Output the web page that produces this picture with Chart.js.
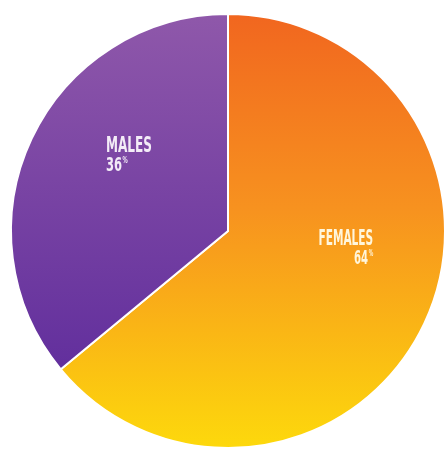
<!DOCTYPE html>
<html>
<head>
<meta charset="utf-8">
<style>
  html, body { margin: 0; padding: 0; background: #ffffff; }
  #wrap { width: 446px; height: 450px; position: relative; }
</style>
<script src="https://cdn.jsdelivr.net/npm/chart.js@4/dist/chart.umd.min.js"></script>
</head>
<body>
<div id="wrap"><canvas id="c" width="446" height="450"></canvas></div>
<script>
const categories = ["FEMALES", "MALES"];
const values = [64, 36];
const percentLabels = ["64", "36"];

const gradientStops = [
  [[0, "#f1661f"], [0.45, "#f7921f"], [1, "#fdd90c"]],
  [[0, "#8f58aa"], [1, "#58269a"]]
];

function makeGradient(ctx, area, stops) {
  const g = ctx.createLinearGradient(0, area.top, 0, area.bottom);
  stops.forEach(s => g.addColorStop(s[0], s[1]));
  return g;
}

const labelPlugin = {
  id: "sliceLabels",
  afterDatasetsDraw(chart) {
    const ctx = chart.ctx;
    const a = chart.chartArea;
    const w = a.right - a.left, h = a.bottom - a.top;
    const spec = [
      { fx: 0.833, fy: 0.532, align: "right", color: "#fff6dc", sx: 0.56 },
      { fx: 0.22, fy: 0.319, align: "left", color: "#f3ecf7", sx: 0.64 }
    ];
    categories.forEach((cat, i) => {
      const s = spec[i];
      const x = a.left + s.fx * w;
      const y = a.top + s.fy * h;
      ctx.save();
      ctx.translate(x, y);
      ctx.scale(s.sx, 1);
      ctx.fillStyle = s.color;
      ctx.textBaseline = "alphabetic";
      ctx.font = "bold 21px 'DejaVu Sans Condensed', 'DejaVu Sans', sans-serif";
      ctx.textAlign = s.align;
      ctx.fillText(cat, 0, 0);
      const numFont = "bold 20px 'DejaVu Sans Condensed', 'DejaVu Sans', sans-serif";
      const pctFont = "bold 9px 'DejaVu Sans Condensed', 'DejaVu Sans', sans-serif";
      ctx.font = numFont;
      const nw = ctx.measureText(percentLabels[i]).width;
      ctx.font = pctFont;
      const pw = ctx.measureText("%").width;
      const total = nw + pw + 1;
      const startX = s.align === "right" ? -total : 0;
      ctx.textAlign = "left";
      ctx.font = numFont;
      ctx.fillText(percentLabels[i], startX, 19);
      ctx.font = pctFont;
      ctx.fillText("%", startX + nw + 1, 11);
      ctx.restore();
    });
  }
};

new Chart(document.getElementById("c"), {
  type: "pie",
  data: {
    labels: categories,
    datasets: [{
      data: values,
      backgroundColor: (c) => {
        const chart = c.chart;
        const area = chart.chartArea;
        if (!area) return gradientStops[c.dataIndex][0][1];
        return makeGradient(chart.ctx, area, gradientStops[c.dataIndex]);
      },
      borderColor: "#ffffff",
      borderWidth: 2
    }]
  },
  options: {
    responsive: false,
    animation: false,
    layout: { padding: { left: 10, right: 0, top: 13, bottom: 1 } },
    plugins: {
      legend: { display: false },
      tooltip: { enabled: false }
    }
  },
  plugins: [labelPlugin]
});
</script>
</body>
</html>
